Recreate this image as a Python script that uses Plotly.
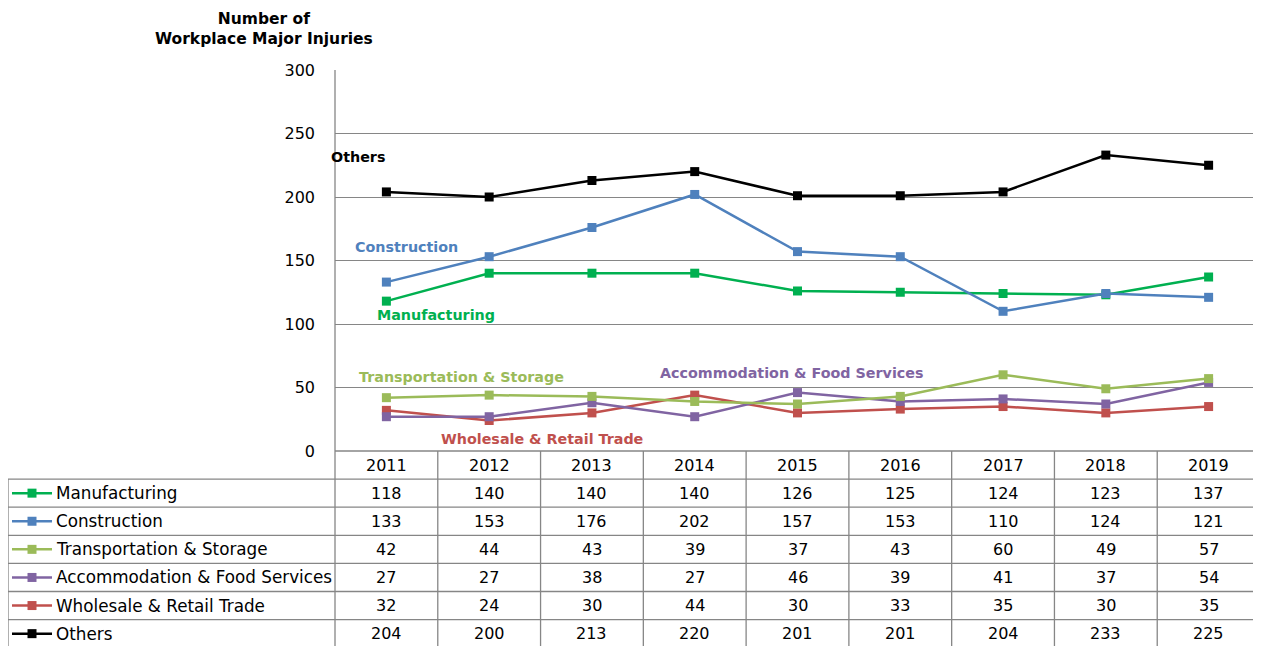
import plotly.graph_objects as go

years = ["2011", "2012", "2013", "2014", "2015", "2016", "2017", "2018", "2019"]
series_names = ["Manufacturing", "Construction", "Transportation & Storage",
                "Accommodation & Food Services", "Wholesale & Retail Trade", "Others"]
manufacturing = [118, 140, 140, 140, 126, 125, 124, 123, 137]
construction = [133, 153, 176, 202, 157, 153, 110, 124, 121]
transportation = [42, 44, 43, 39, 37, 43, 60, 49, 57]
accommodation = [27, 27, 38, 27, 46, 39, 41, 37, 54]
wholesale = [32, 24, 30, 44, 30, 33, 35, 30, 35]
others = [204, 200, 213, 220, 201, 201, 204, 233, 225]
y_ticks = [0, 50, 100, 150, 200, 250, 300]

values = [manufacturing, construction, transportation, accommodation, wholesale, others]
colors = ["#00B050", "#4F81BD", "#9BBB59", "#8064A2", "#C0504D", "#000000"]

# page offset (browser body margin)
O = 8
PAGE_W, PAGE_H = 1261, 646
W, H = PAGE_W - O, PAGE_H - O
# plot area in page pixels
L, R, T, B = 335, 1260, 70, 451
GRID = "#868686"
FONT = "DejaVu Sans"


def px(x):
    return (x - L) / (R - L)


def py(y):
    return (B - y) / (B - T)


fig = go.Figure()
draw_order = [4, 3, 2, 0, 1, 5]
for i in draw_order:
    fig.add_trace(go.Scatter(
        x=years, y=values[i], mode="lines+markers", name=series_names[i],
        line=dict(color=colors[i], width=2.5),
        marker=dict(symbol="square", size=9, color=colors[i]),
        showlegend=False, cliponaxis=False,
    ))

shapes = []
annotations = []


def hline(x0, x1, y):
    shapes.append(dict(type="line", xref="paper", yref="paper",
                       x0=px(x0), x1=px(x1), y0=py(y), y1=py(y),
                       line=dict(color=GRID, width=1.3)))


def vline(x, y0, y1):
    shapes.append(dict(type="line", xref="paper", yref="paper",
                       x0=px(x), x1=px(x), y0=py(y0), y1=py(y1),
                       line=dict(color=GRID, width=1.3)))


ncol = len(years)
colw = (R - L) / ncol
row_h = 28.1
rows_top = B + row_h
table_bottom = PAGE_H + 2

# plot borders
vline(L, T, table_bottom)
vline(R, T, table_bottom)
hline(L, R, B)
for c in range(1, ncol):
    vline(L + c * colw, B, table_bottom)
for r in range(len(series_names)):
    hline(8, R, rows_top + r * row_h)
vline(8, rows_top, table_bottom)

# header years
for c, yr in enumerate(years):
    annotations.append(dict(x=px(L + (c + 0.5) * colw), y=py(B + row_h / 2),
                            xref="paper", yref="paper", text=yr, showarrow=False,
                            font=dict(family=FONT, size=16, color="black"),
                            xanchor="center", yanchor="middle"))

for r, name in enumerate(series_names):
    yc = rows_top + (r + 0.5) * row_h
    shapes.append(dict(type="line", xref="paper", yref="paper",
                       x0=px(12), x1=px(52), y0=py(yc), y1=py(yc),
                       line=dict(color=colors[r], width=2.5)))
    shapes.append(dict(type="rect", xref="paper", yref="paper",
                       x0=px(27.5), x1=px(36.5), y0=py(yc - 4.5), y1=py(yc + 4.5),
                       fillcolor=colors[r], line=dict(width=0)))
    annotations.append(dict(x=px(54), y=py(yc), xref="paper", yref="paper",
                            text=name.replace("&", "&amp;"), showarrow=False,
                            font=dict(family=FONT, size=16.8, color="black"),
                            xanchor="left", yanchor="middle"))
    for c, v in enumerate(values[r]):
        annotations.append(dict(x=px(L + (c + 0.5) * colw), y=py(yc),
                                xref="paper", yref="paper", text=str(v),
                                showarrow=False,
                                font=dict(family=FONT, size=16, color="black"),
                                xanchor="center", yanchor="middle"))

# in-chart series labels
labels = [
    ("Others", 358, 157, "#000000"),
    ("Construction", 406, 247, "#4F81BD"),
    ("Manufacturing", 436, 315, "#00B050"),
    ("Transportation &amp; Storage", 461, 377, "#9BBB59"),
    ("Accommodation &amp; Food Services", 791, 373, "#8064A2"),
    ("Wholesale &amp; Retail Trade", 542, 439, "#C0504D"),
]
for text, x, y, col in labels:
    annotations.append(dict(x=px(x), y=py(y), xref="paper", yref="paper",
                            text="<b>" + text + "</b>", showarrow=False,
                            font=dict(family=FONT, size=14.3, color=col),
                            xanchor="center", yanchor="middle"))

# axis title
annotations.append(dict(x=px(264), y=py(29), xref="paper", yref="paper",
                        text="<b>Number of<br>Workplace Major Injuries</b>",
                        showarrow=False, align="center",
                        font=dict(family=FONT, size=15.5, color="black"),
                        xanchor="center", yanchor="middle"))

fig.update_layout(
    width=W, height=H,
    margin=dict(l=L - O, r=PAGE_W - R, t=T - O, b=PAGE_H - B, pad=0),
    plot_bgcolor="white", paper_bgcolor="white",
    shapes=shapes, annotations=annotations,
    xaxis=dict(range=[-0.5, ncol - 0.5], showticklabels=False, showgrid=False,
               zeroline=False, showline=False, fixedrange=True),
    yaxis=dict(range=[0, 300], tickvals=y_ticks, showgrid=True, gridcolor=GRID,
               gridwidth=1.3, zeroline=False, showline=False,
               tickfont=dict(family=FONT, size=16, color="black"),
               ticks="", ticklabelstandoff=19),
)

fig.write_html("out.html")
